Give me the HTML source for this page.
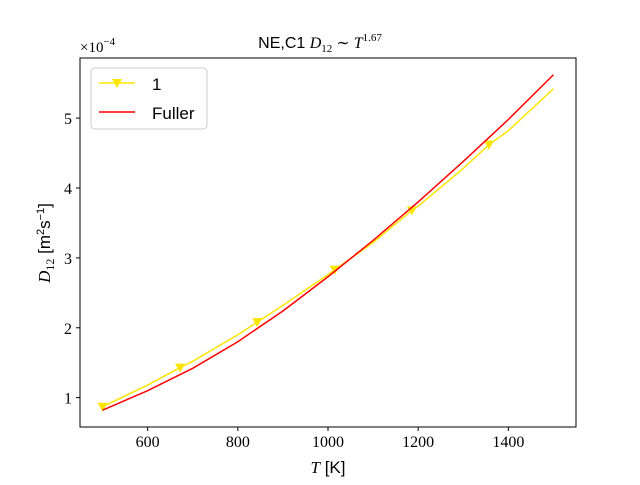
<!DOCTYPE html>
<html><head><meta charset="utf-8"><style>
body{margin:0;background:#fff}
svg text{font-family:"Liberation Sans","DejaVu Sans",sans-serif}
.serif{font-family:"Liberation Serif","DejaVu Serif",serif}
</style></head><body>
<svg id="chart" width="640" height="480">
<rect width="640" height="480" fill="#fff"/>
<g id="plot"></g>
<text x="320" y="48" text-anchor="middle" font-size="16">NE,C1 <tspan class="serif" font-style="italic">D</tspan><tspan class="serif" font-size="11" dy="4">12</tspan><tspan class="serif" dy="-4"> ∼ </tspan><tspan class="serif" font-style="italic">T</tspan><tspan class="serif" font-size="11" dy="-7">1.67</tspan></text>
<text x="80" y="52" font-size="15" class="serif">×10<tspan font-size="11" dy="-7">−4</tspan></text>
<text x="328" y="473" text-anchor="middle" font-size="17"><tspan class="serif" font-style="italic">T</tspan> [K]</text>
<text transform="translate(50,243) rotate(-90)" text-anchor="middle" font-size="17"><tspan class="serif" font-style="italic">D</tspan><tspan class="serif" font-size="12" dy="4">12</tspan><tspan dy="-4"> [m</tspan><tspan font-size="11" dy="-6">2</tspan><tspan dy="6">s</tspan><tspan font-size="11" dy="-6">−1</tspan><tspan dy="6">]</tspan></text>
<g>
<rect x="91" y="68" width="116" height="61" rx="4" fill="#fff" stroke="#ccc"/>
<line x1="99" y1="83" x2="135" y2="83" stroke="#ffe600" stroke-width="1.5"/>
<path d="M112,79 L122,79 L117,88 Z" fill="#ffe600"/>
<text x="152" y="90" font-size="17">1</text>
<line x1="99" y1="112" x2="135" y2="112" stroke="#f00" stroke-width="1.5"/>
<text x="152" y="119" font-size="17">Fuller</text>
</g>
</svg>
<script>
const xTicks=[600,800,1000,1200,1400];
const yTicks=[1,2,3,4,5];
const series1T=[500,600,672,700,800,843,900,1000,1015,1100,1186,1200,1300,1357,1400,1500];
const series1D=[0.87,1.18,1.43,1.52,1.9,2.08,2.32,2.76,2.83,3.22,3.68,3.74,4.28,4.62,4.82,5.42];
const series1Markers=[500,672,843,1015,1186,1357];
const fullerT=[500,600,700,800,900,1000,1100,1200,1300,1400,1500];
const fullerD=[0.82,1.1,1.42,1.8,2.24,2.73,3.25,3.8,4.38,4.98,5.62];
const L=80,R=576,T=58,B=427,xmin=450,xmax=1550,ymin=0.58,ymax=5.86;
const sx=v=>L+(v-xmin)/(xmax-xmin)*(R-L);
const sy=v=>B-(v-ymin)/(ymax-ymin)*(B-T);
const NS="http://www.w3.org/2000/svg";
const g=document.getElementById('plot');
function mk(t,a){const e=document.createElementNS(NS,t);for(const k in a)e.setAttribute(k,a[k]);g.appendChild(e);return e;}
xTicks.forEach(v=>{
const l=mk('line',{x1:sx(v),x2:sx(v),y1:B,y2:B+4,stroke:'#000'});


const t=mk('text',{x:sx(v),y:B+20,'text-anchor':'middle','font-size':16,class:'serif'});t.textContent=v;


});
yTicks.forEach(v=>{
const l=mk('line',{x1:L-4,x2:L,y1:sy(v),y2:sy(v),stroke:'#000'});


const t=mk('text',{x:L-8,y:sy(v)+6,'text-anchor':'end','font-size':16,class:'serif'});t.textContent=v;


});
const p1=mk('polyline',{points:series1T.map((t,i)=>sx(t)+','+sy(series1D[i])).join(' '),fill:'none',stroke:'#ffe600','stroke-width':1.5});


series1Markers.forEach(t=>{
const i=series1T.indexOf(t);const x=sx(t),y=sy(series1D[i]);
const m=mk('path',{d:`M${x-5},${y-4} L${x+5},${y-4} L${x},${y+5} Z`,fill:'#ffe600'});


});
const p2=mk('polyline',{points:fullerT.map((t,i)=>sx(t)+','+sy(fullerD[i])).join(' '),fill:'none',stroke:'#f00','stroke-width':1.5});


const fr=mk('rect',{x:L,y:T,width:R-L,height:B-T,fill:'none',stroke:'#000','stroke-width':1});


</script>
</body></html>
